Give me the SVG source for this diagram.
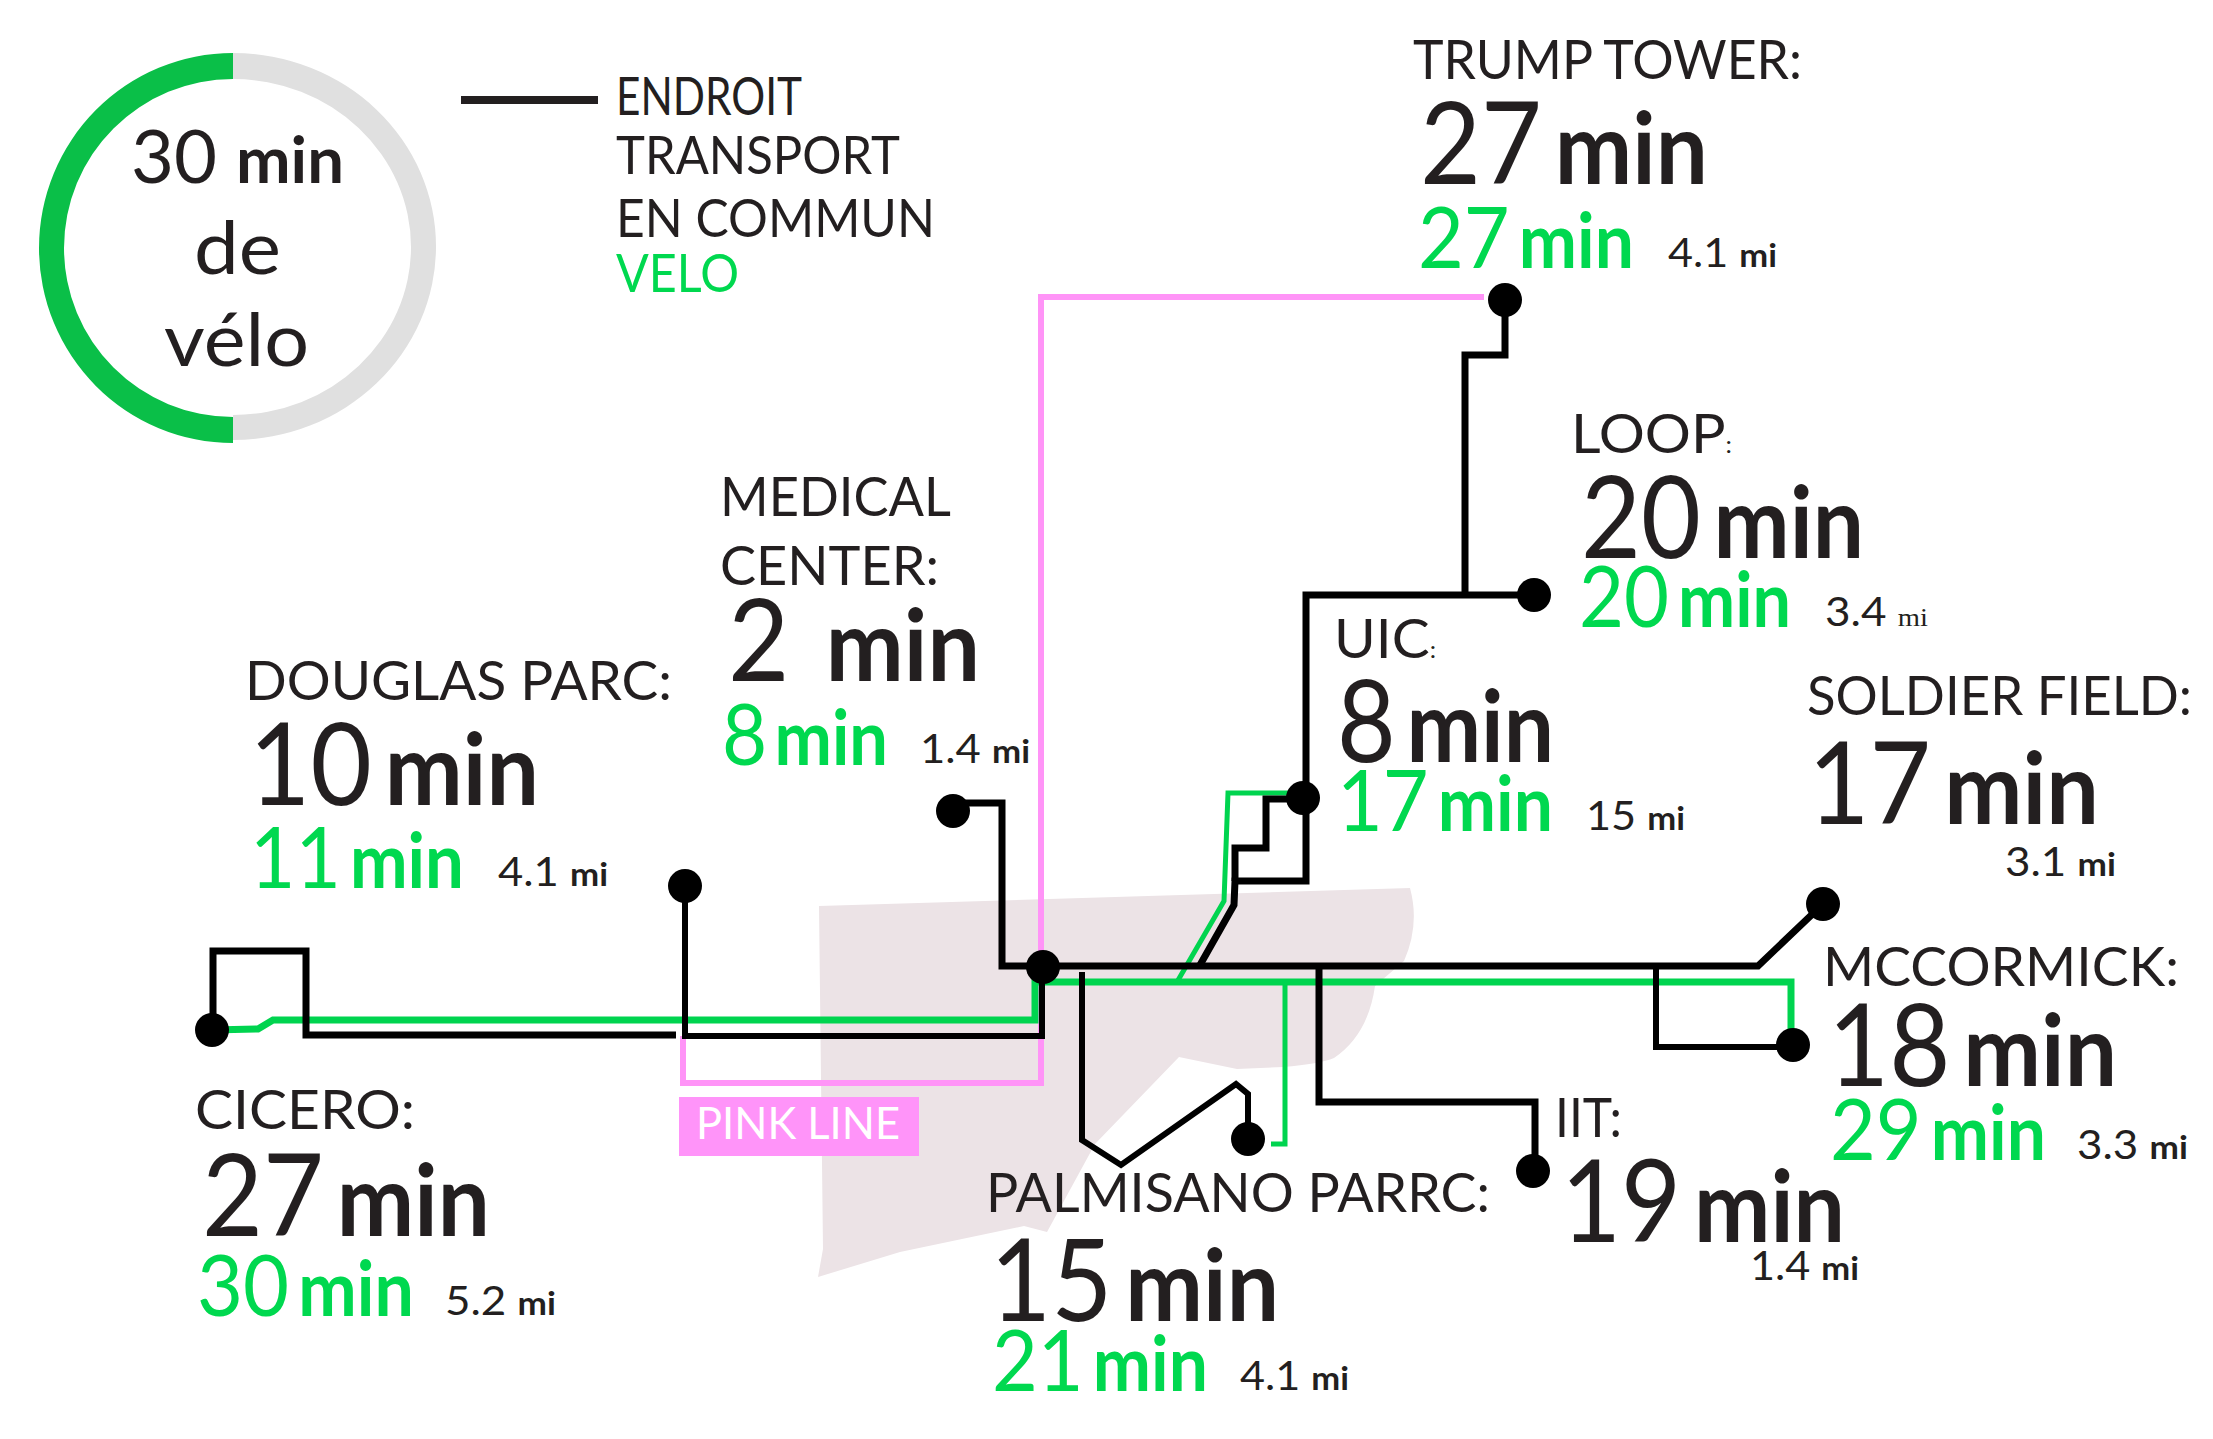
<svg xmlns="http://www.w3.org/2000/svg" width="2213" height="1439" viewBox="0 0 2213 1439">
<style>
text{font-family:"Lato","Liberation Sans",sans-serif;fill:#231f20}
.n{font-size:54px;font-weight:400}
.b{font-size:114px}
.g{font-size:86px;fill:#00d84f}
.d{font-size:40px}
.m{font-weight:700;font-size:.88em}
.sm{font-size:.8em;font-weight:700}
.l{font-size:52px;font-weight:400}
.r{font-size:74px;text-anchor:start}
.k,.kt,.gr,.gt,.p{fill:none;stroke-linejoin:miter;stroke-linecap:butt}
.k{stroke:#000;stroke-width:7}
.kt{stroke:#000;stroke-width:6}
.gr{stroke:#00d44f;stroke-width:7}
.gt{stroke:#00d44f;stroke-width:5}
.p{stroke:#ff94f7;stroke-width:6}
.dot{fill:#000}
</style>
<path id="map" fill="#ece3e6" d="M819 906 L1410 888 Q1420 925 1404 961 L1375 986 Q1368 1035 1334 1058 Q1320 1064 1283 1067 L1237 1069 L1179 1057 L1095 1144 L1047 1232 L1024 1226 L900 1252 L818 1277 L823 1249 Z"/>
<g id="ring">
<path fill="#e0e0e0" d="M233 53 A203 193.5 0 0 1 233 440 L233 415 A178 168 0 0 0 233 79 Z"/>
<path fill="#0abf48" d="M233 53 A194 195 0 0 0 233 443 L233 417 A169 169 0 0 1 233 79 Z"/>
<text class="r" x="131" y="183" textLength="213" lengthAdjust="spacingAndGlyphs">30 <tspan class="m">min</tspan></text>
<text class="r" x="194" y="274" textLength="87" lengthAdjust="spacingAndGlyphs">de</text>
<text class="r" x="164" y="366" textLength="145" lengthAdjust="spacingAndGlyphs">vélo</text>
</g>
<g id="legend">
<rect x="461" y="96" width="137" height="8" fill="#231f20"/>
<text class="l" x="616" y="115" textLength="186" lengthAdjust="spacingAndGlyphs">ENDROIT</text>
<text class="l" x="616" y="174" textLength="284" lengthAdjust="spacingAndGlyphs">TRANSPORT</text>
<text class="l" x="616" y="237" textLength="319" lengthAdjust="spacingAndGlyphs">EN COMMUN</text>
<text class="l" x="616" y="292" textLength="123" lengthAdjust="spacingAndGlyphs" style="fill:#00d84f">VELO</text>
</g>
<g id="connectors">
<path class="p" d="M1484 297 H1041 V1083 H683 V1036"/>
<path class="gr" d="M212 1030 L258 1029 L273 1020 H1035 V982 H1791 V1030"/>
<path class="gt" d="M1285 982 V1144 H1271"/>
<path class="gt" d="M1177 982 L1224 901 L1228 793 H1290"/>
<path class="k" d="M213 1030 V951 H306 V1035 H676"/>
<path class="kt" d="M685 886 V1036 H1042 V967"/>
<path class="k" d="M953 803 H1002 V966 H1758 L1823 904"/>
<path class="kt" d="M1082 972 V1140 L1121 1165 L1236 1084 L1248 1094 V1139"/>
<path class="k" d="M1319 966 V1102 H1535 V1171"/>
<path class="kt" d="M1656 966 V1047 H1793"/>
<path class="k" d="M1200 965 L1234 905 L1235 881 H1306 V595 H1534"/>
<path class="k" d="M1235 881 V848 H1266 V799 H1303"/>
<path class="k" d="M1465 595 V355 H1505 V300"/>
</g>
<g id="pink-line"><rect x="679" y="1097" width="240" height="59" fill="#ff94f9"/>
<text class="l" x="696" y="1139" textLength="204" lengthAdjust="spacingAndGlyphs" style="fill:#fff;font-size:44px">PINK LINE</text></g>
<g id="trump-tower"><circle class="dot" cx="1505" cy="300" r="17"/>
<text class="n" x="1413" y="79" textLength="389" lengthAdjust="spacingAndGlyphs">TRUMP TOWER:</text>
<text class="b" x="1420" y="184" textLength="288" lengthAdjust="spacingAndGlyphs">27<tspan class="m" dx="14">min</tspan></text>
<text class="g" x="1418" y="268" textLength="216" lengthAdjust="spacingAndGlyphs">27<tspan class="m" dx="10">min</tspan></text>
<text class="d" x="1668" y="267" textLength="109" lengthAdjust="spacingAndGlyphs">4.1 <tspan class="sm">mi</tspan></text></g>
<g id="loop"><circle class="dot" cx="1534" cy="595" r="17"/>
<text class="n" x="1571" y="453" textLength="161" lengthAdjust="spacingAndGlyphs">LOOP<tspan font-size="24">:</tspan></text>
<text class="b" x="1581" y="558" textLength="283" lengthAdjust="spacingAndGlyphs">20<tspan class="m" dx="14">min</tspan></text>
<text class="g" x="1579" y="627" textLength="212" lengthAdjust="spacingAndGlyphs">20<tspan class="m" dx="10">min</tspan></text>
<text class="d" x="1825" y="626" textLength="103" lengthAdjust="spacingAndGlyphs">3.4 <tspan font-size="26" style="font-family:'Liberation Serif',serif">mi</tspan></text></g>
<g id="uic"><circle class="dot" cx="1303" cy="798" r="17"/>
<text class="n" x="1334" y="658" textLength="102" lengthAdjust="spacingAndGlyphs">UIC<tspan font-size="24">:</tspan></text>
<text class="b" x="1337" y="762" textLength="217" lengthAdjust="spacingAndGlyphs">8<tspan class="m" dx="12">min</tspan></text>
<text class="g" x="1337" y="831" textLength="216" lengthAdjust="spacingAndGlyphs">17<tspan class="m" dx="10">min</tspan></text>
<text class="d" x="1586" y="830" textLength="99" lengthAdjust="spacingAndGlyphs">15 <tspan class="sm">mi</tspan></text></g>
<g id="soldier-field"><circle class="dot" cx="1823" cy="904" r="17"/>
<text class="n" x="1807" y="715" textLength="385" lengthAdjust="spacingAndGlyphs">SOLDIER FIELD:</text>
<text class="b" x="1808" y="824" textLength="291" lengthAdjust="spacingAndGlyphs">17<tspan class="m" dx="14">min</tspan></text>
<text class="d" x="2005" y="876" textLength="111" lengthAdjust="spacingAndGlyphs">3.1 <tspan class="sm">mi</tspan></text></g>
<g id="mccormick"><circle class="dot" cx="1793" cy="1045" r="17"/>
<text class="n" x="1823" y="986" textLength="356" lengthAdjust="spacingAndGlyphs">MCCORMICK:</text>
<text class="b" x="1828" y="1086" textLength="289" lengthAdjust="spacingAndGlyphs">18<tspan class="m" dx="14">min</tspan></text>
<text class="g" x="1830" y="1160" textLength="216" lengthAdjust="spacingAndGlyphs">29<tspan class="m" dx="10">min</tspan></text>
<text class="d" x="2077" y="1159" textLength="111" lengthAdjust="spacingAndGlyphs">3.3 <tspan class="sm">mi</tspan></text></g>
<g id="iit"><circle class="dot" cx="1533" cy="1171" r="17"/>
<text class="n" x="1555" y="1137" textLength="67" lengthAdjust="spacingAndGlyphs">IIT:</text>
<text class="b" x="1561" y="1242" textLength="284" lengthAdjust="spacingAndGlyphs">19<tspan class="m" dx="14">min</tspan></text>
<text class="d" x="1750" y="1280" textLength="109" lengthAdjust="spacingAndGlyphs">1.4 <tspan class="sm">mi</tspan></text></g>
<g id="palmisano"><circle class="dot" cx="1248" cy="1139" r="17"/>
<text class="n" x="986" y="1212" textLength="504" lengthAdjust="spacingAndGlyphs">PALMISANO PARRC:</text>
<text class="b" x="990" y="1321" textLength="289" lengthAdjust="spacingAndGlyphs">15<tspan class="m" dx="14">min</tspan></text>
<text class="g" x="992" y="1391" textLength="216" lengthAdjust="spacingAndGlyphs">21<tspan class="m" dx="10">min</tspan></text>
<text class="d" x="1240" y="1390" textLength="109" lengthAdjust="spacingAndGlyphs">4.1 <tspan class="sm">mi</tspan></text></g>
<g id="cicero"><circle class="dot" cx="212" cy="1030" r="17"/>
<text class="n" x="195" y="1129" textLength="220" lengthAdjust="spacingAndGlyphs">CICERO:</text>
<text class="b" x="202" y="1236" textLength="288" lengthAdjust="spacingAndGlyphs">27<tspan class="m" dx="14">min</tspan></text>
<text class="g" x="197" y="1316" textLength="217" lengthAdjust="spacingAndGlyphs">30<tspan class="m" dx="10">min</tspan></text>
<text class="d" x="445" y="1315" textLength="111" lengthAdjust="spacingAndGlyphs">5.2 <tspan class="sm">mi</tspan></text></g>
<g id="douglas-parc"><circle class="dot" cx="685" cy="886" r="17"/>
<text class="n" x="245" y="700" textLength="427" lengthAdjust="spacingAndGlyphs">DOUGLAS PARC:</text>
<text class="b" x="249" y="805" textLength="290" lengthAdjust="spacingAndGlyphs">10<tspan class="m" dx="14">min</tspan></text>
<text class="g" x="250" y="888" textLength="214" lengthAdjust="spacingAndGlyphs">11<tspan class="m" dx="10">min</tspan></text>
<text class="d" x="498" y="886" textLength="110" lengthAdjust="spacingAndGlyphs">4.1 <tspan class="sm">mi</tspan></text></g>
<g id="medical-center"><circle class="dot" cx="953" cy="811" r="17"/>
<text class="n" x="720" y="516" textLength="231" lengthAdjust="spacingAndGlyphs">MEDICAL</text>
<text class="n" x="720" y="585" textLength="219" lengthAdjust="spacingAndGlyphs">CENTER:</text>
<text class="b" x="728" y="681" textLength="252" lengthAdjust="spacingAndGlyphs">2 <tspan class="m" dx="10">min</tspan></text>
<text class="g" x="722" y="765" textLength="166" lengthAdjust="spacingAndGlyphs">8<tspan class="m" dx="8">min</tspan></text>
<text class="d" x="920" y="763" textLength="110" lengthAdjust="spacingAndGlyphs">1.4 <tspan class="sm">mi</tspan></text></g>
<g id="hub"><circle class="dot" cx="1043" cy="967" r="17"/></g>
</svg>
